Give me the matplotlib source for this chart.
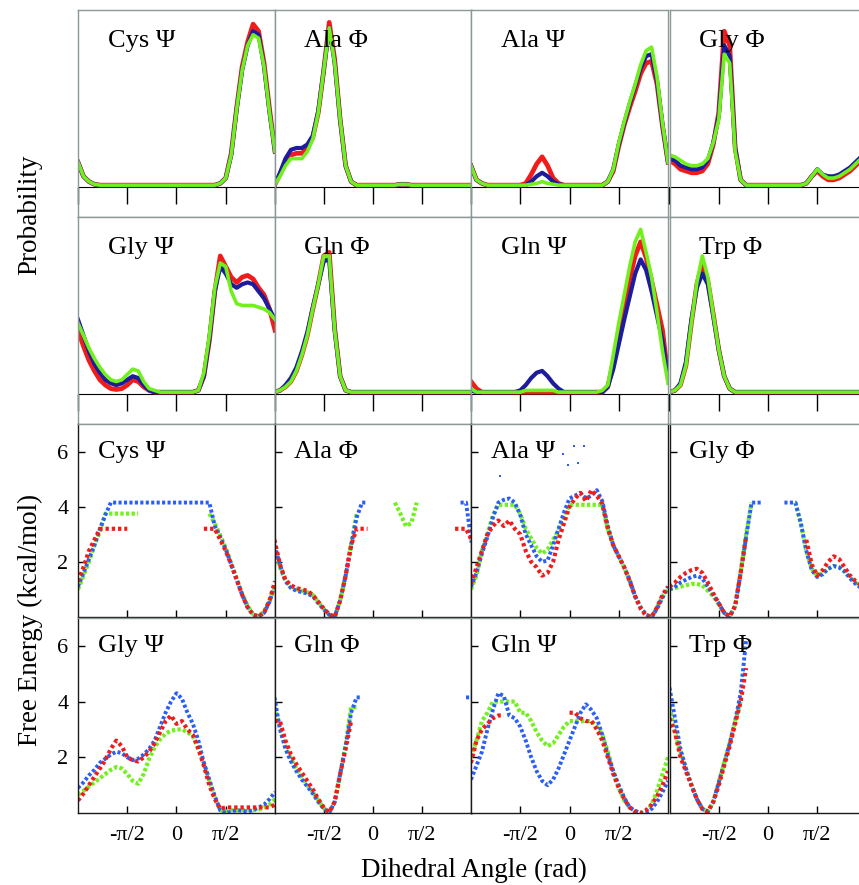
import numpy as np
from matplotlib import pyplot as plt

n = np.nan
ang = np.radians(np.arange(-180, 181, 10))   # 37 angle bins, -180..180 deg

titles = [["Cys \u03a8", "Ala \u03a6", "Ala \u03a8", "Gly \u03a6"],
          ["Gly \u03a8", "Gln \u03a6", "Gln \u03a8", "Trp \u03a6"]]

# ---------------- probability (arbitrary units, 1 = panel top) ----------------
# each entry: (red, blue, green), 37 values from -180 to 180 deg
prob = {}
prob["Cys \u03a8"] = (
    [0.14, 0.06, 0.03, 0.015, 0.01, 0.01, 0.01, 0.01, 0.01, 0.01] + [0.01] * 10 +
    [0.01, 0.01, 0.01, 0.01, 0.01, 0.01, 0.02, 0.05, 0.19, 0.45] + [0.68, 0.82, 0.92, 0.88, 0.7, 0.44, 0.2],
    [0.14, 0.06, 0.03, 0.015, 0.01, 0.01, 0.01, 0.01, 0.01, 0.01] + [0.01] * 10 +
    [0.01, 0.01, 0.01, 0.01, 0.01, 0.01, 0.02, 0.05, 0.18, 0.44] + [0.66, 0.8, 0.88, 0.86, 0.68, 0.42, 0.2],
    [0.14, 0.06, 0.03, 0.015, 0.01, 0.01, 0.01, 0.01, 0.01, 0.01] + [0.01] * 10 +
    [0.01, 0.01, 0.01, 0.01, 0.01, 0.01, 0.02, 0.05, 0.18, 0.44] + [0.66, 0.8, 0.86, 0.84, 0.68, 0.42, 0.2])
prob["Ala \u03a6"] = (
    [0.01, 0.07, 0.14, 0.18, 0.19, 0.19, 0.22, 0.28, 0.42, 0.66, 0.93, 0.72, 0.38, 0.12, 0.03] + [0.01] * 6 +
    [0.01, 0.01, 0.015, 0.015, 0.01] + [0.01] * 11,
    [0.01, 0.08, 0.16, 0.21, 0.22, 0.22, 0.24, 0.29, 0.43, 0.66, 0.9, 0.7, 0.38, 0.12, 0.03] + [0.01] * 6 +
    [0.01, 0.01, 0.015, 0.015, 0.01] + [0.01] * 11,
    [0.01, 0.06, 0.12, 0.16, 0.16, 0.16, 0.2, 0.27, 0.42, 0.66, 0.9, 0.7, 0.38, 0.12, 0.03] + [0.01] * 6 +
    [0.01, 0.01, 0.015, 0.015, 0.01] + [0.01] * 11)
prob["Ala \u03a8"] = (
    [0.12, 0.04, 0.02, 0.01, 0.01, 0.01, 0.01, 0.01, 0.01, 0.01,
     0.02, 0.07, 0.13, 0.17, 0.12, 0.05, 0.02, 0.01, 0.01, 0.01,
     0.01, 0.01, 0.01, 0.01, 0.01, 0.03, 0.09, 0.23, 0.35, 0.45,
     0.54, 0.64, 0.7, 0.71, 0.58, 0.34, 0.14],
    [0.12, 0.04, 0.02, 0.01, 0.01, 0.01, 0.01, 0.01, 0.01, 0.01,
     0.01, 0.03, 0.06, 0.08, 0.06, 0.03, 0.015, 0.01, 0.01, 0.01,
     0.01, 0.01, 0.01, 0.01, 0.01, 0.03, 0.1, 0.24, 0.36, 0.47,
     0.57, 0.67, 0.74, 0.75, 0.6, 0.35, 0.14],
    [0.12, 0.04, 0.02, 0.01, 0.01, 0.01, 0.01, 0.01, 0.01, 0.01,
     0.01, 0.015, 0.02, 0.03, 0.02, 0.015, 0.01, 0.01, 0.01, 0.01,
     0.01, 0.01, 0.01, 0.01, 0.01, 0.03, 0.1, 0.25, 0.37, 0.48,
     0.58, 0.69, 0.77, 0.79, 0.62, 0.36, 0.14])
prob["Gly \u03a6"] = (
    [0.15, 0.13, 0.1, 0.09, 0.08, 0.08, 0.09, 0.13, 0.24, 0.42,
     0.88, 0.8, 0.22, 0.04, 0.01, 0.01, 0.01, 0.01, 0.01, 0.01,
     0.01, 0.01, 0.01, 0.01, 0.01, 0.02, 0.06, 0.09, 0.06, 0.04,
     0.04, 0.05, 0.07, 0.09, 0.12, 0.15, 0.17],
    [0.16, 0.15, 0.12, 0.11, 0.1, 0.1, 0.11, 0.15, 0.25, 0.4,
     0.8, 0.74, 0.22, 0.04, 0.01, 0.01, 0.01, 0.01, 0.01, 0.01,
     0.01, 0.01, 0.01, 0.01, 0.01, 0.02, 0.06, 0.1, 0.07, 0.06,
     0.06, 0.07, 0.09, 0.11, 0.14, 0.17, 0.19],
    [0.18, 0.17, 0.15, 0.13, 0.12, 0.12, 0.13, 0.16, 0.25, 0.38,
     0.75, 0.7, 0.2, 0.04, 0.01, 0.01, 0.01, 0.01, 0.01, 0.01,
     0.01, 0.01, 0.01, 0.01, 0.01, 0.02, 0.06, 0.1, 0.07, 0.05,
     0.05, 0.06, 0.08, 0.1, 0.13, 0.16, 0.18])
prob["Gly \u03a8"] = (
    [0.36, 0.27, 0.19, 0.13, 0.08, 0.05, 0.03, 0.025, 0.03, 0.05,
     0.08, 0.07, 0.04, 0.02, 0.01, 0.01, 0.01, 0.01, 0.01, 0.01,
     0.01, 0.01, 0.02, 0.1, 0.3, 0.58, 0.78, 0.72, 0.66, 0.63,
     0.66, 0.67, 0.65, 0.6, 0.56, 0.48, 0.36],
    [0.42, 0.33, 0.24, 0.17, 0.12, 0.08, 0.06, 0.05, 0.06, 0.08,
     0.1, 0.09, 0.05, 0.02, 0.01, 0.01, 0.01, 0.01, 0.01, 0.01,
     0.01, 0.01, 0.02, 0.1, 0.31, 0.58, 0.72, 0.68, 0.62, 0.6,
     0.62, 0.63, 0.62, 0.58, 0.54, 0.48, 0.42],
    [0.4, 0.33, 0.26, 0.2, 0.15, 0.11, 0.08, 0.07, 0.08, 0.11,
     0.14, 0.13, 0.07, 0.03, 0.02, 0.01, 0.01, 0.01, 0.01, 0.01,
     0.01, 0.01, 0.02, 0.12, 0.33, 0.6, 0.74, 0.72, 0.58, 0.51,
     0.5, 0.5, 0.5, 0.49, 0.48, 0.46, 0.42])
prob["Gln \u03a6"] = (
    [0.01, 0.02, 0.04, 0.07, 0.13, 0.22, 0.33, 0.48, 0.62, 0.78,
     0.8, 0.37, 0.1, 0.02] + [0.01] * 23,
    [0.01, 0.02, 0.05, 0.09, 0.15, 0.24, 0.35, 0.49, 0.62, 0.75,
     0.76, 0.36, 0.1, 0.02] + [0.01] * 23,
    [0.01, 0.02, 0.04, 0.07, 0.13, 0.22, 0.33, 0.48, 0.62, 0.78,
     0.78, 0.36, 0.1, 0.02] + [0.01] * 23)
prob["Gln \u03a8"] = (
    [0.07, 0.03, 0.01, 0.01, 0.01, 0.01, 0.01, 0.01, 0.01, 0.01,
     0.01, 0.01, 0.01, 0.01, 0.01, 0.01, 0.01, 0.01, 0.01, 0.01,
     0.01, 0.01, 0.01, 0.01, 0.01, 0.04, 0.18, 0.34, 0.5, 0.65,
     0.78, 0.86, 0.77, 0.64, 0.5, 0.36, 0.1],
    [0.02, 0.01, 0.01, 0.01, 0.01, 0.01, 0.01, 0.01, 0.01, 0.02,
     0.05, 0.09, 0.12, 0.13, 0.1, 0.06, 0.03, 0.01, 0.01, 0.01,
     0.01, 0.01, 0.01, 0.01, 0.01, 0.04, 0.14, 0.28, 0.42, 0.55,
     0.68, 0.76, 0.7, 0.58, 0.44, 0.3, 0.1],
    [0.03, 0.01, 0.01, 0.01, 0.01, 0.01, 0.01, 0.01, 0.01, 0.01,
     0.02, 0.02, 0.02, 0.02, 0.02, 0.02, 0.01, 0.01, 0.01, 0.01,
     0.01, 0.01, 0.01, 0.01, 0.02, 0.05, 0.22, 0.4, 0.56, 0.72,
     0.86, 0.93, 0.8, 0.66, 0.46, 0.24, 0.06])
prob["Trp \u03a6"] = (
    [0.01, 0.02, 0.05, 0.16, 0.4, 0.62, 0.74, 0.64, 0.45, 0.25,
     0.1, 0.03] + [0.01] * 25,
    [0.01, 0.02, 0.06, 0.18, 0.42, 0.6, 0.68, 0.62, 0.44, 0.25,
     0.1, 0.03] + [0.01] * 25,
    [0.01, 0.02, 0.05, 0.16, 0.4, 0.63, 0.78, 0.66, 0.45, 0.25,
     0.1, 0.03] + [0.01] * 25)

# ---------------- free energy (kcal/mol) ----------------
energy = {}
energy["Cys \u03a8"] = (
    [1.3, 1.8, 2.4, 2.8, 3.2, 3.2, 3.2, 3.2, 3.2, 3.2] + [n] * 13 +
    [3.2, 3.2, 3.2, 2.8, 2.4, 1.9, 1.35, 0.8, 0.35, 0.08, 0.02, 0.15, 0.6, 1.3],
    [1.1, 1.6, 2.1, 2.6, 3.2, 3.7] + [4.15] * 19 +
    [3.3, 2.9, 2.45, 1.9, 1.35, 0.8, 0.35, 0.08, 0.02, 0.15, 0.55, 1.2],
    [1.0, 1.5, 2.0, 2.6, 3.1, 3.75, 3.75, 3.75, 3.75, 3.75, 3.75, 3.75] + [n] * 12 +
    [3.75, 3.4, 2.95, 2.5, 1.95, 1.4, 0.85, 0.4, 0.1, 0.03, 0.2, 0.6, 1.1])
energy["Ala \u03a6"] = (
    [2.8, 1.9, 1.35, 1.15, 1.05, 1.0, 0.95, 0.8, 0.55, 0.3,
     0.1, 0.0, 0.6, 1.5, 2.6, 3.2, 3.2, 3.2] + [n] * 15 + [3.2, 3.2, 3.2, 2.8],
    [2.6, 1.9, 1.3, 1.05, 0.95, 0.9, 0.85, 0.75, 0.5, 0.28,
     0.08, 0.02, 0.6, 1.5, 2.6, 3.6, 4.15, 4.15] + [n] * 16 + [4.15, 4.15, 2.7],
    [2.4, 1.8, 1.3, 1.1, 1.0, 0.95, 0.9, 0.8, 0.55, 0.3,
     0.1, 0.0, 0.6, 1.5, 2.6, 3.75] + [n] * 6 +
    [4.15, 3.75, 3.3, 3.4, 4.15] + [n] * 9 + [2.4])
energy["Ala \u03a8"] = (
    [1.2, 1.8, 2.4, 3.0, 3.3, 3.5, 3.3, 3.5, 3.2, 3.0,
     2.4, 2.0, 1.8, 1.5, 1.6, 2.0, 2.8, 3.4, 4.0, 4.3,
     4.5, 4.2, 4.6, 4.4, 4.1, 3.2, 2.6, 2.2, 1.8, 1.3,
     0.75, 0.3, 0.05, 0.0, 0.35, 0.8, 1.1],
    [1.1, 1.6, 2.3, 2.9, 3.6, 4.15, 4.25, 4.3, 4.15, 3.7,
     3.0, 2.6, 2.2, 2.0, 2.05, 2.6, 3.2, 3.8, 4.3, 4.4,
     4.5, 4.3, 4.4, 4.6, 4.2, 3.3, 2.6, 2.2, 1.8, 1.35,
     0.75, 0.35, 0.08, 0.0, 0.3, 0.7, 1.1],
    [1.0, 1.5, 2.4, 3.0, 3.7, 4.07, 4.07, 4.07, 4.07, 3.75,
     3.2, 2.85, 2.5, 2.3, 2.45, 2.8, 3.15, 3.6, 4.07, 4.07,
     4.07, 4.07, 4.07, 4.07, 4.07, 3.2, 2.6, 2.2, 1.8, 1.3,
     0.75, 0.35, 0.08, 0.0, 0.35, 0.75, 1.0])
# a few stray high points in Ala Psi (blue)
ala_psi_stray_ang = np.radians([-127, -12, -2, 8, 16, 26])
ala_psi_stray_val = [5.1, 5.9, 5.5, 6.2, 5.6, 6.2]
energy["Gly \u03a6"] = (
    [1.1, 1.25, 1.45, 1.6, 1.7, 1.75, 1.6, 1.25, 0.85, 0.5,
     0.15, 0.02, 0.4, 1.6, 2.9] + [n] * 10 +
    [2.8, 1.9, 1.5, 1.7, 2.0, 2.2, 2.1, 1.8, 1.5, 1.3, 1.15, 1.1],
    [1.0, 1.1, 1.25, 1.35, 1.45, 1.5, 1.4, 1.1, 0.8, 0.5,
     0.15, 0.02, 0.4, 1.6, 2.9, 4.15, 4.15, 4.15, n, n,
     n, 4.15, 4.15, 4.15, 3.4, 2.4, 1.7, 1.45, 1.55, 1.75,
     1.85, 1.8, 1.65, 1.4, 1.2, 1.05, 1.0],
    [1.0, 1.05, 1.1, 1.15, 1.2, 1.2, 1.15, 0.95, 0.75, 0.45,
     0.15, 0.02, 0.4, 1.6, 3.0, 4.15, n, n, n, n,
     n, n, n, 4.15, 3.4, 2.4, 1.75, 1.5, 1.6, 1.75,
     1.85, 1.8, 1.65, 1.45, 1.25, 1.1, 1.0])
energy["Gly \u03a8"] = (
    [0.45, 0.7, 1.0, 1.3, 1.6, 1.9, 2.3, 2.6, 2.4, 2.0,
     1.9, 1.85, 2.0, 2.2, 2.5, 2.9, 3.3, 3.5, 3.2, 3.3,
     3.0, 2.8, 2.3, 1.7, 1.0, 0.5, 0.15, 0.2, 0.2, 0.2,
     0.2, 0.2, 0.2, 0.2, 0.2, 0.2, 0.3],
    [0.9, 1.1, 1.35, 1.55, 1.8, 1.95, 2.1, 2.2, 2.15, 2.0,
     1.9, 1.95, 2.1, 2.3, 2.6, 3.1, 3.6, 4.0, 4.3, 4.1,
     3.6, 3.2, 2.6, 1.8, 1.2, 0.6, 0.1, 0.0, 0.05, 0.1,
     0.08, 0.05, 0.1, 0.2, 0.3, 0.5, 0.75],
    [0.65, 0.8, 0.95, 1.1, 1.25, 1.4, 1.55, 1.65, 1.6, 1.4,
     1.15, 1.05, 1.4, 1.95, 2.35, 2.65, 2.85, 2.95, 3.0, 3.0,
     2.9, 2.75, 2.3, 1.8, 1.15, 0.55, 0.1, 0.05, 0.1, 0.1,
     0.1, 0.1, 0.1, 0.12, 0.2, 0.3, 0.5])
energy["Gln \u03a6"] = (
    [3.3, 3.3, 2.6, 2.1, 1.75, 1.45, 1.15, 0.85, 0.5, 0.2,
     0.02, 0.4, 1.4, 2.3, 3.3] + [n] * 22,
    [4.15, 3.0, 2.3, 1.85, 1.5, 1.2, 0.95, 0.7, 0.4, 0.15,
     0.0, 0.4, 1.4, 2.4, 3.6, 4.15, 4.15] + [n] * 18 + [4.15, 4.15],
    [3.8, 3.1, 2.4, 1.95, 1.6, 1.3, 1.0, 0.75, 0.45, 0.18,
     0.02, 0.4, 1.4, 2.45, 3.8, 3.8] + [n] * 21)
energy["Gln \u03a8"] = (
    [1.8, 2.6, 3.0, 3.2, 3.4, 3.5, 3.5] + [n] * 11 +
    [3.6, 3.6, 3.4, 3.3, 3.3, 3.0, 2.6, 2.0, 1.4, 0.9, 0.5, 0.2,
     0.05, 0.0, 0.1, 0.3, 0.6, 1.0, 1.5],
    [1.2, 1.7, 2.2, 3.0, 3.7, 4.3, 4.2, 3.5, 3.4, 3.1,
     2.6, 2.0, 1.5, 1.15, 1.0, 1.2, 1.6, 2.1, 2.6, 3.1,
     3.6, 3.9, 3.7, 3.4, 2.8, 2.1, 1.5, 1.0, 0.55, 0.2,
     0.08, 0.0, 0.02, 0.15, 0.4, 0.75, 1.15],
    [2.0, 2.6, 3.3, 3.6, 4.0, 4.0, 4.0, 4.0, 4.0, 3.6,
     3.6, 3.3, 2.9, 2.6, 2.4, 2.5, 2.8, 3.1, 3.3, 3.3,
     3.3, 3.3, 3.3, 3.1, 2.8, 2.2, 1.5, 0.9, 0.45, 0.2,
     0.05, 0.0, 0.05, 0.3, 0.8, 1.4, 2.0])
energy["Trp \u03a6"] = (
    [3.4, 2.9, 2.0, 1.5, 1.0, 0.5, 0.15, 0.05, 0.4, 1.0,
     1.7, 2.4, 3.2, 4.0, 5.2] + [n] * 22,
    [4.5, 3.4, 2.3, 1.6, 1.0, 0.5, 0.15, 0.05, 0.4, 1.1,
     1.8, 2.5, 3.3, 4.3, 6.2] + [n] * 22,
    [3.8, 2.9, 2.2, 1.6, 1.0, 0.5, 0.15, 0.05, 0.4, 1.1,
     1.8, 2.5, 3.3, 4.0] + [n] * 23)

red = "#f01c1c"
blue_p = "#1c1c9c"
blue_e = "#2a5ff5"
green = "#72f01e"
frame = "#8a9898"
serif = "Liberation Serif"
plt.rcParams["font.family"] = serif

fig = plt.figure(figsize=(8.59, 8.85), dpi=100)
W, H = 859, 885
lefts = [78, 274.5, 471, 669.5]
pw = 197
prob_rows = [(10, 217), (217, 424)]
en_rows = [(424, 617), (618, 813)]
ticks = [-np.pi / 2, 0, np.pi / 2]
pmin, pmax = -0.17, 1.0

for r, (top, bot) in enumerate(prob_rows):
    for c in range(4):
        ax = fig.add_axes([lefts[c] / W, 1 - bot / H, pw / W, (bot - top) / H])
        name = titles[r][c]
        pr, pb, pg = prob[name]
        ax.plot(ang, pr, color=red, lw=3.4)
        ax.plot(ang, pb, color=blue_p, lw=3.0)
        ax.plot(ang, pg, color=green, lw=2.6)
        ax.set_xlim(-np.pi, np.pi)
        ax.set_ylim(pmin, pmax)
        ax.set_xticks([])
        ax.set_yticks([])
        for s in ax.spines.values():
            s.set_color(frame)
            s.set_linewidth(1.0)
        base = ax.secondary_xaxis(-pmin / (pmax - pmin))
        base.set_xticks([-np.pi] + ticks)
        base.set_xticklabels([])
        base.tick_params(direction="out", length=12, width=1, color="k")
        base.spines["bottom"].set_color("k")
        ax.text(0.15, 0.85, name, transform=ax.transAxes, fontsize=19,
                va="center", ha="left")

for r, (top, bot) in enumerate(en_rows):
    for c in range(4):
        ax = fig.add_axes([lefts[c] / W, 1 - bot / H, pw / W, (bot - top) / H])
        name = titles[r][c]
        er, eb, eg = energy[name]
        ax.plot(ang, eg, color=green, lw=3.0, ls=(0, (0.8, 0.55)))
        ax.plot(ang, eb, color=blue_e, lw=2.8, ls=(0, (0.8, 0.6)))
        ax.plot(ang, er, color=red, lw=3.0, ls=(0, (0.8, 0.7)))
        if name == "Ala \u03a8":
            ax.plot(ala_psi_stray_ang, ala_psi_stray_val, ls="none", marker="s",
                    ms=1.5, mew=0, color=blue_e)
        ax.set_xlim(-np.pi, np.pi)
        ax.set_ylim(0, 7)
        ax.set_xticks(ticks)
        ax.set_yticks([2, 4, 6])
        ax.tick_params(direction="in", length=5, width=1, labelsize=16)
        if r == 1:
            ax.set_xticklabels(["-\u03c0/2", "0", "\u03c0/2"])
            ax.tick_params(axis="x", pad=9)
        else:
            ax.set_xticklabels([])
        if c != 0:
            ax.set_yticklabels([])
        else:
            ax.tick_params(axis="y", pad=7)
        for s in ax.spines.values():
            s.set_color("#1a1a1a")
            s.set_linewidth(1.0)
        ax.spines["top"].set_color(frame)
        ax.text(0.1, 0.855, name, transform=ax.transAxes, fontsize=19,
                va="center", ha="left")

fig.text(30 / W, 1 - 215 / H, "Probability", rotation=90, fontsize=19.5,
         ha="center", va="center")
fig.text(30 / W, 1 - 620 / H, "Free Energy (kcal/mol)", rotation=90,
         fontsize=19.5, ha="center", va="center")
fig.text(474 / W, 1 - 870 / H, "Dihedral Angle (rad)", fontsize=19.5,
         ha="center", va="center")

fig.savefig("out.png", dpi=100)
